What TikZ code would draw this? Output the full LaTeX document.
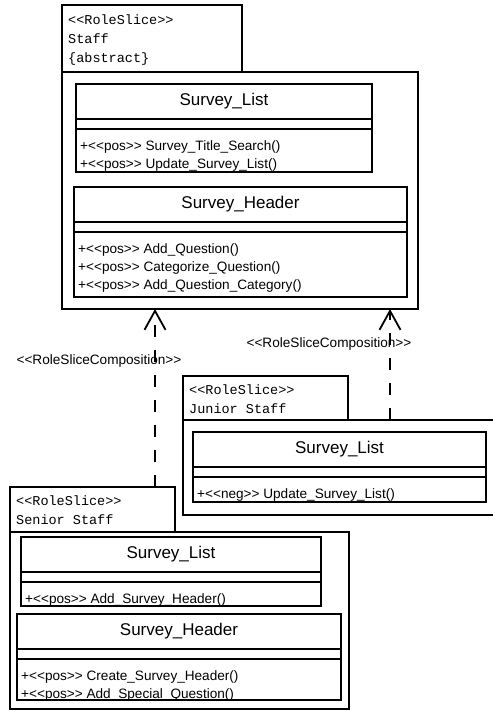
\documentclass[tikz,border=0pt]{standalone}
\usepackage{fontspec}
\usepackage{tikz}
\usetikzlibrary{arrows.meta,positioning}
\newfontfamily\slicefont{Liberation Mono}
\newfontfamily\umlfont{Liberation Sans}

\begin{document}
\begin{tikzpicture}[
    x=1pt, y=-1pt,
    node distance=0pt,
    frame/.style={rectangle, draw, line width=1.6pt, inner sep=0pt, outer sep=0pt, anchor=north west},
    tabtxt/.style={anchor=north west, inner sep=0pt, align=left, font=\slicefont\fontsize{13.5}{19}\selectfont},
    clsname/.style={frame, minimum height=35pt, font=\umlfont\fontsize{17}{20}\selectfont},
    clsattr/.style={frame, minimum height=10pt},
    clsops/.style={frame},
    ops/.style={anchor=north west, inner sep=0pt, align=left, font=\umlfont\fontsize{13.6}{18}\selectfont},
    comp/.style={-{Straight Barb[length=19pt,width=21pt]}, line width=1.8pt, dash pattern=on 12pt off 13pt},
    complabel/.style={font=\umlfont\fontsize{13.6}{16}\selectfont, inner sep=0pt}
]
    \useasboundingbox (0,0) rectangle (492,711);

    % Staff slice
    \node[frame, minimum width=180pt, minimum height=67pt] (stafftab) at (62,5) {};
    \node[tabtxt] (stafftabtxt) at ([xshift=6pt,yshift=-10pt]stafftab.north west) {<<RoleSlice>>\\Staff\\\{abstract\}};
    \node[frame, minimum width=356pt, minimum height=237pt] (staff) at (62,72) {};

    \node[clsname, minimum width=296pt] (stlist) at (76,84) {Survey\_List};
    \node[clsattr, minimum width=296pt, below=of stlist] (stlistattr) {};
    \node[clsops, minimum width=296pt, minimum height=43pt, below=of stlistattr] (stlistops) {};
    \node[ops] (stlisttxt) at ([xshift=4pt,yshift=-11pt]stlistops.north west) {+<<pos>> Survey\_Title\_Search()\\+<<pos>> Update\_Survey\_List()};

    \node[clsname, minimum width=333pt] (sthead) at (74,187) {Survey\_Header};
    \node[clsattr, minimum width=333pt, below=of sthead] (stheadattr) {};
    \node[clsops, minimum width=333pt, minimum height=65pt, below=of stheadattr] (stheadops) {};
    \node[ops] (stheadtxt) at ([xshift=4pt,yshift=-11pt]stheadops.north west) {+<<pos>> Add\_Question()\\+<<pos>> Categorize\_Question()\\+<<pos>> Add\_Question\_Category()};

    % Junior Staff slice
    \node[frame, minimum width=165pt, minimum height=44pt] (jrtab) at (183,376) {};
    \node[tabtxt] (jrtabtxt) at ([xshift=6pt,yshift=-9pt]jrtab.north west) {<<RoleSlice>>\\Junior Staff};
    \node[frame, minimum width=313pt, minimum height=95pt] (junior) at (183,420) {};

    \node[clsname, minimum width=293pt] (jrlist) at (193,432) {Survey\_List};
    \node[clsattr, minimum width=293pt, below=of jrlist] (jrlistattr) {};
    \node[clsops, minimum width=293pt, minimum height=25pt, below=of jrlistattr] (jrlistops) {};
    \node[ops] (jrlisttxt) at ([xshift=4pt,yshift=-11pt]jrlistops.north west) {+<<neg>> Update\_Survey\_List()};

    % Senior Staff slice
    \node[frame, minimum width=165pt, minimum height=45pt] (srtab) at (10,487) {};
    \node[tabtxt] (srtabtxt) at ([xshift=6pt,yshift=-9pt]srtab.north west) {<<RoleSlice>>\\Senior Staff};
    \node[frame, minimum width=339pt, minimum height=177pt] (senior) at (10,532) {};

    \node[clsname, minimum width=300pt] (srlist) at (21,537) {Survey\_List};
    \node[clsattr, minimum width=300pt, below=of srlist] (srlistattr) {};
    \node[clsops, minimum width=300pt, minimum height=24pt, below=of srlistattr] (srlistops) {};
    \node[ops] (srlisttxt) at ([xshift=4pt,yshift=-11pt]srlistops.north west) {+<<pos>> Add\_Survey\_Header()};

    \node[clsname, minimum width=324pt] (srhead) at (17,614) {Survey\_Header};
    \node[clsattr, minimum width=324pt, below=of srhead] (srheadattr) {};
    \node[clsops, minimum width=324pt, minimum height=41pt, below=of srheadattr] (srheadops) {};
    \node[ops] (srheadtxt) at ([xshift=4pt,yshift=-11pt]srheadops.north west) {+<<pos>> Create\_Survey\_Header()\\+<<pos>> Add\_Special\_Question()};

    % Compositions
    \coordinate (srtop) at ([xshift=145pt]srtab.north west);
    \coordinate (jrtop) at ([xshift=207pt]junior.north west);
    \draw[comp] (srtop) -- (srtop |- staff.south)
        node[complabel, pos=0.71, xshift=-56pt] (srlabel) {<<RoleSliceComposition>>};
    \draw[comp] (jrtop) -- (jrtop |- staff.south)
        node[complabel, pos=0.685, xshift=-61pt] (jrlabel) {<<RoleSliceComposition>>};
\end{tikzpicture}
\end{document}
